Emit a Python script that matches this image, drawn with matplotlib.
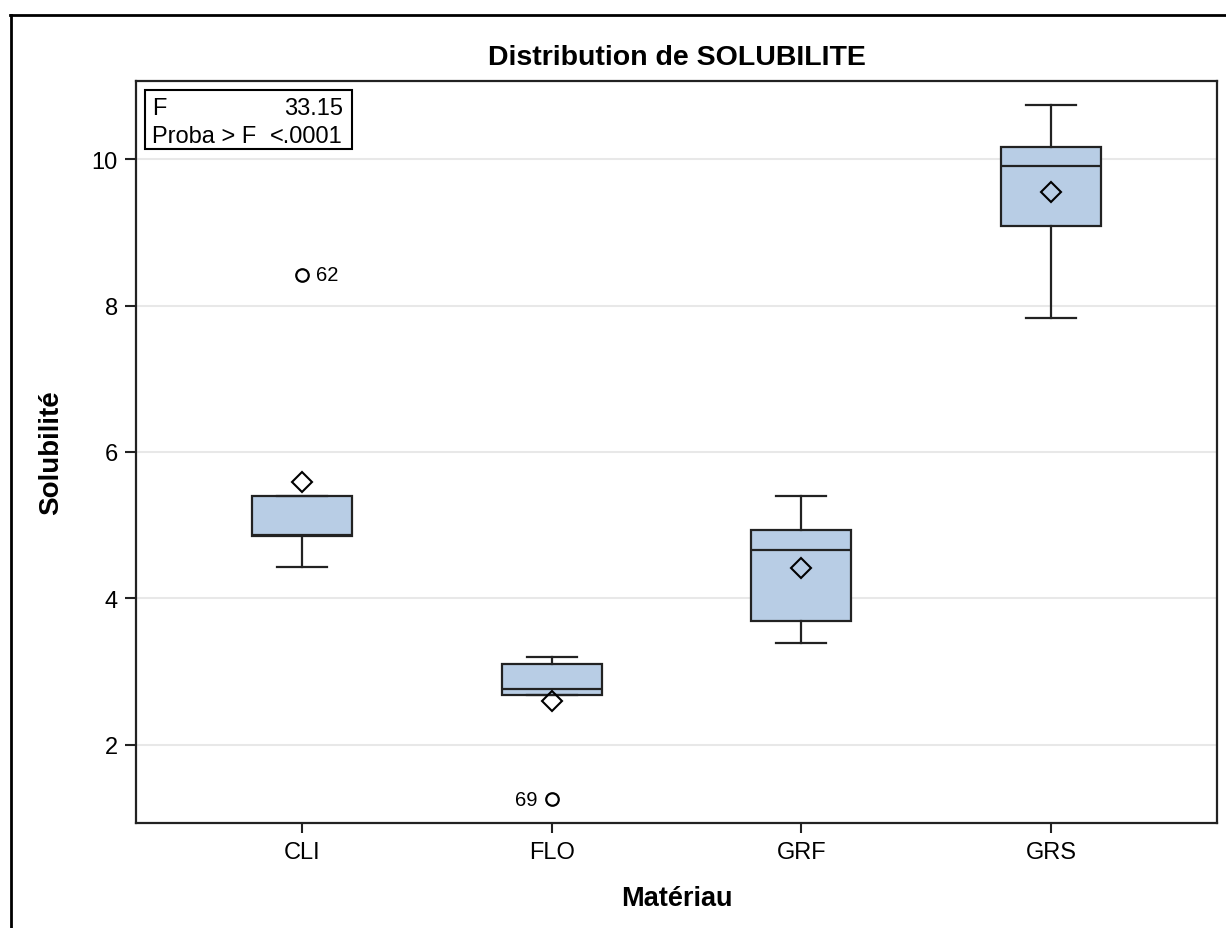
import matplotlib.pyplot as plt
from matplotlib.lines import Line2D

plt.rcParams['font.family'] = ['Liberation Sans', 'DejaVu Sans']

categories = ["CLI", "FLO", "GRF", "GRS"]
q1 = [4.86, 2.68, 3.69, 9.09]
med = [4.87, 2.77, 4.66, 9.90]
q3 = [5.40, 3.11, 4.94, 10.16]
whislo = [4.43, 2.68, 3.39, 7.83]
whishi = [5.40, 3.20, 5.40, 10.74]
means = [5.59, 2.60, 4.42, 9.55]
fliers = [[8.42], [1.26], [], []]
flier_ids = [["62"], ["69"], [], []]
yticks = [2, 4, 6, 8, 10]

stats = []
for i, c in enumerate(categories):
    stats.append(dict(label=c, q1=q1[i], med=med[i], q3=q3[i], whislo=whislo[i],
                      whishi=whishi[i], mean=means[i], fliers=fliers[i]))

fig = plt.figure(figsize=(12.26, 9.29), dpi=100)
ax = fig.add_axes([136 / 1226, 1 - 824 / 929, (1217 - 136) / 1226, (824 - 82) / 929])

edge = '#222222'
pos = list(range(1, len(categories) + 1))
ax.bxp(stats, positions=pos, widths=0.4, patch_artist=True, showmeans=True,
       showfliers=True,
       boxprops=dict(facecolor='#B8CDE5', edgecolor=edge, linewidth=1.6),
       medianprops=dict(color=edge, linewidth=1.6),
       whiskerprops=dict(color=edge, linewidth=1.6),
       capprops=dict(color=edge, linewidth=1.6),
       capwidths=0.2,
       meanprops=dict(marker='D', markersize=10.5, markerfacecolor='none',
                      markeredgecolor='black', markeredgewidth=1.5),
       flierprops=dict(marker='o', markersize=9, markerfacecolor='none',
                       markeredgecolor='black', markeredgewidth=1.6))

# outlier labels
for i in range(len(categories)):
    for v, lab in zip(fliers[i], flier_ids[i]):
        if v > med[i]:
            ax.annotate(lab, (pos[i], v), xytext=(10, 0), textcoords='offset points',
                        ha='left', va='center', fontsize=14.5)
        else:
            ax.annotate(lab, (pos[i], v), xytext=(-10, 0), textcoords='offset points',
                        ha='right', va='center', fontsize=14.5)

ax.set_xlim(0.335, 4.665)
ax.set_ylim(0.935, 11.065)
ax.set_yticks(yticks)
ax.set_xticks(pos)
ax.set_xticklabels(categories)
ax.yaxis.grid(True, color='#E8E8E8', linewidth=1.5)
ax.set_axisbelow(True)
ax.tick_params(axis='x', labelsize=17, length=7, width=1.5, color=edge, pad=6)
ax.tick_params(axis='y', labelsize=17, length=8, width=1.5, color=edge, pad=5)
for s in ax.spines.values():
    s.set_color(edge)
    s.set_linewidth(1.6)

ax.set_title("Distribution de SOLUBILITE", fontsize=20.5, fontweight='bold', pad=12)
ax.set_ylabel("Solubilité", fontsize=20, fontweight='bold', labelpad=20)
ax.set_xlabel("Matériau", fontsize=19.5, fontweight='bold', labelpad=16)

# stats inset
ax.text(0.0148, 0.9555, "F", transform=ax.transAxes, ha='left', va='baseline', fontsize=17)
ax.text(0.0148, 0.9178, "Proba > F", transform=ax.transAxes, ha='left', va='baseline', fontsize=17)
ax.text(0.1915, 0.9555, "33.15", transform=ax.transAxes, ha='right', va='baseline', fontsize=17)
ax.text(0.1915, 0.9178, "<.0001", transform=ax.transAxes, ha='right', va='baseline', fontsize=17)
ax.add_patch(plt.Rectangle((0.0083, 0.908), 0.1915, 0.0795, transform=ax.transAxes,
                           fill=False, edgecolor='black', linewidth=1.5))

# outer frame (top and left edges visible)
fig.add_artist(Line2D([10 / 1226, 1.0], [1 - 16 / 929, 1 - 16 / 929], color='black', linewidth=2))
fig.add_artist(Line2D([11 / 1226, 11 / 1226], [0, 1 - 16 / 929], color='black', linewidth=2))

fig.savefig("out.png", dpi=100)
